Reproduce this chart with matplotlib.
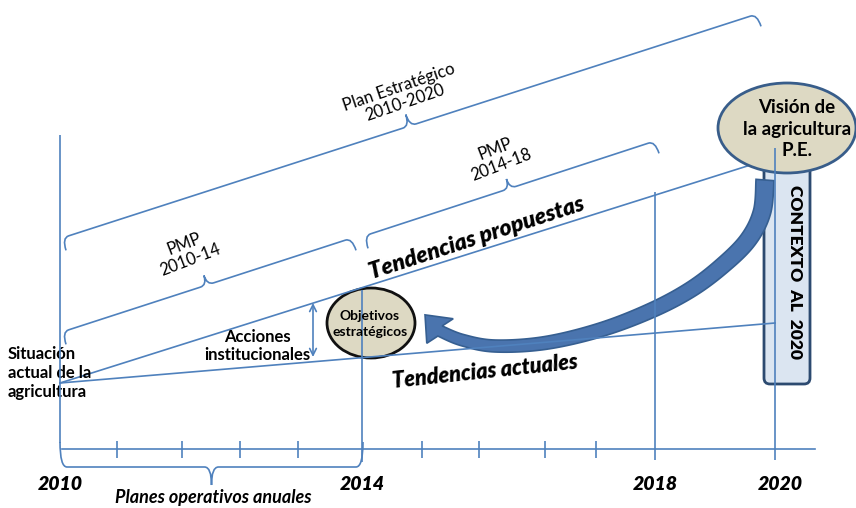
import numpy as np
import matplotlib
matplotlib.use("Agg")
import matplotlib.pyplot as plt
from matplotlib.patches import Ellipse, FancyBboxPatch, Polygon, PathPatch
from matplotlib.path import Path

# ---------------- data ----------------
years = ["2010", "2014", "2018", "2020"]
year_x = [60, 362, 655, 775]                 # timeline position of each year
tick_x = [117, 182, 240, 298, 422, 479, 545, 596]   # annual ticks
trend_start = (60, 383)                       # current situation (2010)
trend_current_end = (775, 323)                # current trends reach 2020
trend_proposed_end = (760, 162)               # proposed trends reach the vision
year_top = [135, 290, 192, 148]               # top of each year's vertical line

brace_labels = ["Plan Estratégico\n2010-2020", "PMP\n2010-14", "PMP\n2014-18"]
texts_left = "Situación\nactual de la\nagricultura"

LINE = "#4f81bd"
FONT = ["Lato", "DejaVu Sans"]
NARROW = ["Liberation Sans Narrow", "Lato", "DejaVu Sans"]

fig = plt.figure(figsize=(8.56, 5.08), dpi=100)
ax = fig.add_axes([0, 0, 1, 1])
ax.set_xlim(0, 856)
ax.set_ylim(508, 0)
ax.axis("off")

lw = 1.2

def brace(A, B, n, hook, tick, r=7):
    A = np.array(A, float); B = np.array(B, float); n = np.array(n, float)
    n = n / np.linalg.norm(n)
    d = (B - A) / np.linalg.norm(B - A)
    M = (A + B) / 2
    verts = [A - hook * n, A, A + r * d,
             M - r * d, M, M + tick * n, M, M + r * d,
             B - r * d, B, B - hook * n]
    codes = [Path.MOVETO, Path.CURVE3, Path.CURVE3,
             Path.LINETO, Path.CURVE3, Path.CURVE3, Path.CURVE3, Path.CURVE3,
             Path.LINETO, Path.CURVE3, Path.CURVE3]
    ax.add_patch(PathPatch(Path(verts, codes), fill=False, ec=LINE, lw=lw, zorder=3))

# braces
up = np.array([-0.31, -0.95])
brace((62, 238), (757, 14), up, 13, 12)
brace((62, 332), (352, 238), up, 13, 10)
brace((364, 236), (655, 141), up, 13, 10)
brace((60, 467), (363, 467), (0, 1), 25, 18)

ax.text(402, 95, brace_labels[0], rotation=19, ha="center", va="center",
        multialignment="center", rotation_mode="anchor", fontsize=12,
        family=NARROW, color="black", linespacing=1.1)
ax.text(187, 252, brace_labels[1], rotation=21, ha="center", va="center",
        multialignment="center", rotation_mode="anchor", fontsize=12,
        family=NARROW, linespacing=1.1)
ax.text(498, 157, brace_labels[2], rotation=21, ha="center", va="center",
        multialignment="center", rotation_mode="anchor", fontsize=12,
        family=NARROW, linespacing=1.1)

# context box
box = FancyBboxPatch((764, 150), 46, 234, boxstyle="round,pad=0,rounding_size=6",
                     fc="#dbe5f1", ec="#2c4a70", lw=2, zorder=2)
ax.add_patch(box)
ax.text(795, 272, "CONTEXTO  AL  2020", rotation=270, ha="center", va="center",
        fontsize=12.5, fontweight="heavy", family=FONT, zorder=6)

# vision ellipse
ax.add_patch(Ellipse((787, 128), 138, 90, fc="#ddd9c3", ec="#385d8a", lw=2, zorder=4))
ax.text(797, 129, "Visión de\nla agricultura\nP.E.", ha="center", va="center",
        fontsize=13.5, fontweight="bold", family=FONT, linespacing=1.3, zorder=6)

# objectives ellipse
ax.add_patch(Ellipse((371, 323), 88, 70, fc="#ddd9c3", ec="#111111", lw=2, zorder=2))
ax.text(370, 324, "Objetivos\nestratégicos", ha="center", va="center",
        fontsize=10, fontweight="bold", family=FONT, linespacing=1.3, zorder=6)

# timeline
ax.plot([62, 815], [449, 449], color=LINE, lw=lw, zorder=3)
ax.vlines(tick_x, 441, 458, color=LINE, lw=lw, zorder=3)
bottoms = [443, 462, 460, 460]
ax.vlines(year_x, year_top, bottoms, color=LINE, lw=lw, zorder=5)
for yx, yl in zip(year_x, years):
    ax.text(yx + (5 if yl == "2020" else 0), 484, yl, ha="center", va="center",
            fontsize=14, fontweight="heavy", style="italic", family=FONT)
ax.text(213, 498, "Planes operativos anuales", ha="center", va="center",
        fontsize=13, fontweight="bold", style="italic", family=FONT)

# trend lines
ax.plot([trend_start[0], trend_current_end[0]], [trend_start[1], trend_current_end[1]],
        color=LINE, lw=lw, zorder=5)
ax.plot([trend_start[0], trend_proposed_end[0]], [trend_start[1], trend_proposed_end[1]],
        color=LINE, lw=lw, zorder=3)

# double arrow (Acciones institucionales)
ax.annotate("", xy=(313, 303), xytext=(313, 357),
            arrowprops=dict(arrowstyle="<->", color=LINE, lw=lw,
                            shrinkA=0, shrinkB=0, mutation_scale=12), zorder=5)

ax.text(8, 373, texts_left, ha="left", va="center", fontsize=12,
        fontweight="bold", family=FONT, linespacing=1.25)
ax.text(257, 346, "Acciones\ninstitucionales", ha="center", va="center",
        fontsize=12, fontweight="bold", family=FONT, linespacing=1.1)
ax.text(477, 238, "Tendencias propuestas", rotation=18, ha="center", va="center",
        rotation_mode="anchor", fontsize=16.5, fontweight="heavy", style="italic",
        family=FONT)
ax.text(485, 372, "Tendencias actuales", rotation=6, ha="center", va="center",
        rotation_mode="anchor", fontsize=15.5, fontweight="heavy", style="italic",
        family=FONT)

# curved block arrow
def catmull(pts, n=16):
    pts = np.array(pts, float)
    P = np.vstack([pts[0], pts, pts[-1]])
    out = []
    for i in range(1, len(P) - 2):
        p0, p1, p2, p3 = P[i - 1], P[i], P[i + 1], P[i + 2]
        for t in np.linspace(0, 1, n, endpoint=False):
            out.append(0.5 * ((2 * p1) + (-p0 + p2) * t + (2 * p0 - 5 * p1 + 4 * p2 - p3) * t ** 2
                              + (-p0 + 3 * p1 - 3 * p2 + p3) * t ** 3))
    out.append(P[-2])
    return np.array(out)

cl = catmull([(765, 180), (762, 212), (748, 240), (722, 266), (690, 290), (650, 311),
              (600, 330), (545, 343), (495, 346), (462, 340), (440, 331)])
seg = np.diff(cl, axis=0)
tang = np.vstack([seg, seg[-1]])
tang /= np.linalg.norm(tang, axis=1)[:, None]
nrm = np.column_stack([-tang[:, 1], tang[:, 0]])
s = np.concatenate([[0], np.cumsum(np.linalg.norm(seg, axis=1))])
w = 18 + (11 - 18) * s / s[-1]
left = cl + nrm * (w / 2)[:, None]
right = cl - nrm * (w / 2)[:, None]
a = np.deg2rad(24)
hd = tang[-1]
hd = np.array([hd[0] * np.cos(a) - hd[1] * np.sin(a), hd[0] * np.sin(a) + hd[1] * np.cos(a)])
hn = np.array([-hd[1], hd[0]])
C = cl[-1]
tip = C + 22 * hd
head = [C + 18 * hn, tip, C - 18 * hn]
poly = np.vstack([left, head, right[::-1]])
ax.add_patch(Polygon(poly, closed=True, fc="#4a74ae", ec="#365f91", lw=1.2, zorder=4))

fig.savefig("out.png", dpi=100)
